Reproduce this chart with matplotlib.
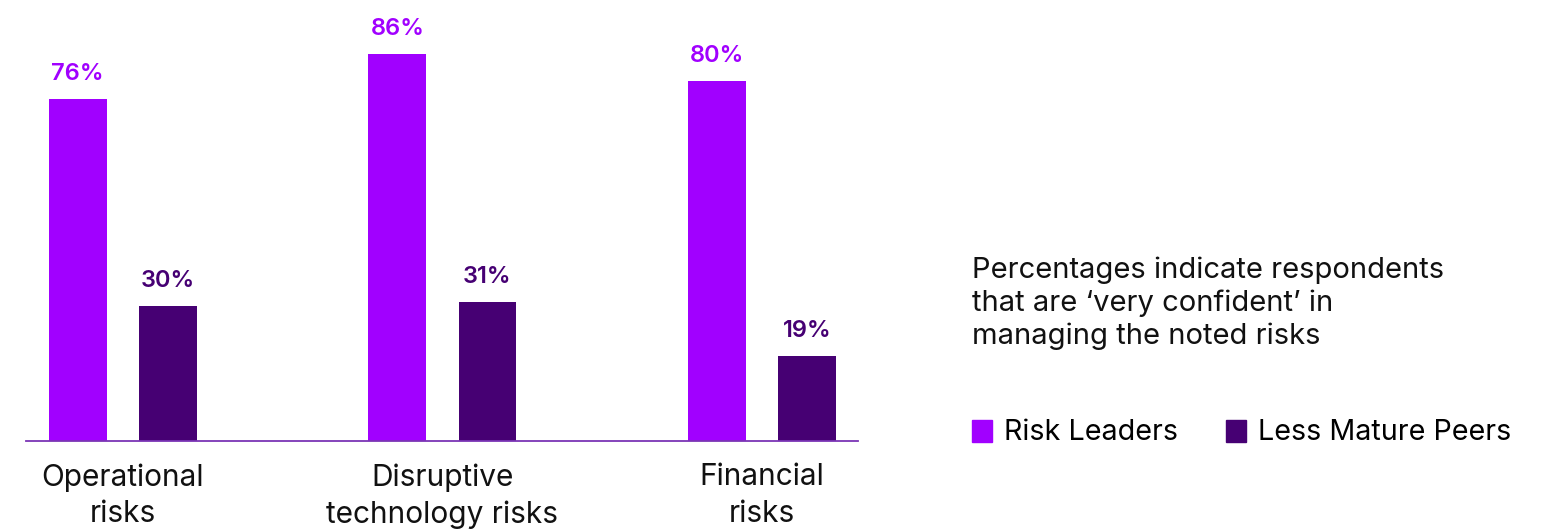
import matplotlib.pyplot as plt
from matplotlib.patches import Patch
import numpy as np

categories = ["Operational\nrisks", "Disruptive\ntechnology risks", "Financial\nrisks"]
risk_leaders = [76, 86, 80]
less_mature = [30, 31, 19]
series_names = ["Risk Leaders", "Less Mature Peers"]
note = "Percentages indicate respondents\nthat are \u2018very confident\u2019 in\nmanaging the noted risks"

c_leaders = "#A100FF"
c_peers = "#460073"

plt.rcParams["font.family"] = ["Inter", "DejaVu Sans"]

fig = plt.figure(figsize=(15.43, 5.29), dpi=100)
ax = fig.add_axes([26 / 1543, 88 / 529, (858 - 26) / 1543, 441 / 529])

x = np.arange(len(categories))
w = 0.181
off = 0.141
b1 = ax.bar(x - off, risk_leaders, w, color=c_leaders)
b2 = ax.bar(x + off, less_mature, w, color=c_peers)

for rect, v in zip(b1, risk_leaders):
    ax.annotate(f"{v}%", (rect.get_x() + rect.get_width() / 2, v),
                xytext=(0, 10), textcoords="offset points", ha="center", va="bottom",
                fontsize=17, fontweight="semibold", color=c_leaders)
for rect, v in zip(b2, less_mature):
    ax.annotate(f"{v}%", (rect.get_x() + rect.get_width() / 2, v),
                xytext=(0, 10), textcoords="offset points", ha="center", va="bottom",
                fontsize=17, fontweight="semibold", color=c_peers)

ax.set_xlim(-0.303, 2.3)
ax.set_ylim(0, 98)
ax.set_xticks(x)
ax.set_xticklabels(categories, fontsize=21.5, color="#111111", linespacing=1.38)
ax.tick_params(axis="x", length=0, pad=16)
ax.set_yticks([])
for s in ["top", "right", "left"]:
    ax.spines[s].set_visible(False)
ax.spines["bottom"].set_color("#7B35B5")
ax.spines["bottom"].set_linewidth(1.3)

fig.text(972 / 1543, 1 - 257 / 529, note, fontsize=21, color="#111111",
         va="top", ha="left", linespacing=1.25)

handles = [Patch(color=c_leaders), Patch(color=c_peers)]
fig.legend(handles, series_names, loc="center left",
           bbox_to_anchor=(972 / 1543, 1 - 433 / 529), ncol=2, frameon=False,
           fontsize=20.7, handlelength=0.7, handleheight=0.8, handletextpad=0.42,
           columnspacing=1.67, borderpad=0, borderaxespad=0)

fig.savefig("out.png", dpi=100)
